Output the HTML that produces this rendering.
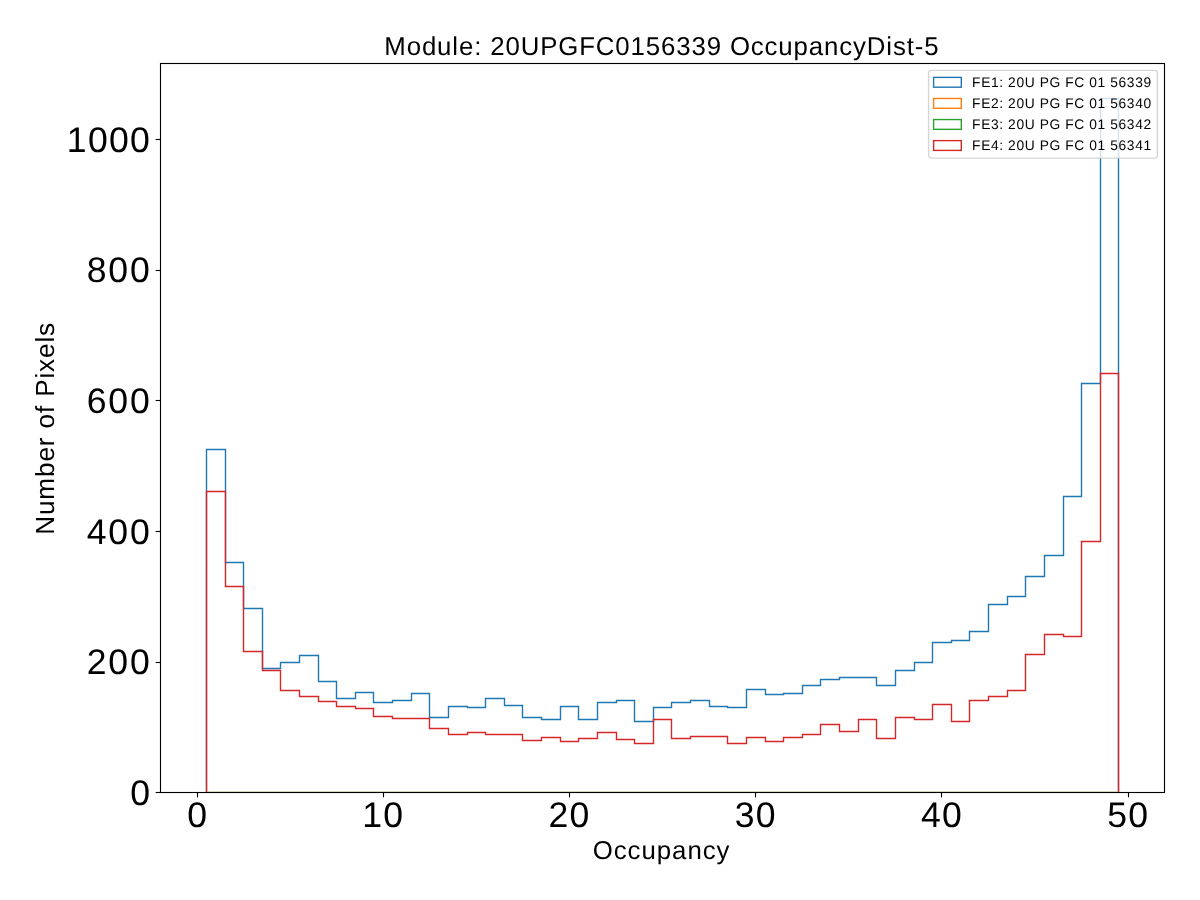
<!DOCTYPE html>
<html><head><meta charset="utf-8"><style>
html,body{margin:0;padding:0;background:#fff;}
svg{display:block;text-rendering:geometricPrecision;will-change:transform;}
text{font-family:"Liberation Sans",sans-serif;fill:#000;}
</style></head><body>
<svg width="1200" height="900" viewBox="0 0 1200 900">
<rect x="0" y="0" width="1200" height="900" fill="#fff"/>
<g fill="none" stroke-width="1.39" stroke-linejoin="miter">
<path d="M206.5 792.5 L206.5 449.5 L225.5 449.5 L225.5 562.5 L243.5 562.5 L243.5 608.5 L262.5 608.5 L262.5 668.5 L280.5 668.5 L280.5 662.5 L299.5 662.5 L299.5 655.5 L318.5 655.5 L318.5 681.5 L336.5 681.5 L336.5 698.5 L355.5 698.5 L355.5 692.5 L373.5 692.5 L373.5 702.5 L392.5 702.5 L392.5 700.5 L411.5 700.5 L411.5 693.5 L429.5 693.5 L429.5 717.5 L448.5 717.5 L448.5 706.5 L467.5 706.5 L467.5 707.5 L485.5 707.5 L485.5 698.5 L504.5 698.5 L504.5 705.5 L522.5 705.5 L522.5 717.5 L541.5 717.5 L541.5 719.5 L560.5 719.5 L560.5 706.5 L578.5 706.5 L578.5 719.5 L597.5 719.5 L597.5 702.5 L616.5 702.5 L616.5 700.5 L634.5 700.5 L634.5 721.5 L653.5 721.5 L653.5 707.5 L671.5 707.5 L671.5 702.5 L690.5 702.5 L690.5 700.5 L709.5 700.5 L709.5 706.5 L727.5 706.5 L727.5 707.5 L746.5 707.5 L746.5 689.5 L765.5 689.5 L765.5 694.5 L783.5 694.5 L783.5 693.5 L802.5 693.5 L802.5 685.5 L820.5 685.5 L820.5 679.5 L839.5 679.5 L839.5 677.5 L858.5 677.5 L858.5 677.5 L876.5 677.5 L876.5 685.5 L895.5 685.5 L895.5 670.5 L914.5 670.5 L914.5 662.5 L932.5 662.5 L932.5 642.5 L951.5 642.5 L951.5 640.5 L969.5 640.5 L969.5 631.5 L988.5 631.5 L988.5 604.5 L1007.5 604.5 L1007.5 596.5 L1025.5 596.5 L1025.5 576.5 L1044.5 576.5 L1044.5 555.5 L1063.5 555.5 L1063.5 496.5 L1081.5 496.5 L1081.5 383.5 L1100.5 383.5 L1100.5 98.5 L1118.5 98.5 L1118.5 792.5" stroke="#1f77b4"/>
<line x1="206.5" y1="791.5" x2="1118.5" y2="791.5" stroke="#e2e2c6" stroke-width="1"/>
<path d="M206.5 792.5 L206.5 491.5 L225.5 491.5 L225.5 586.5 L243.5 586.5 L243.5 651.5 L262.5 651.5 L262.5 670.5 L280.5 670.5 L280.5 690.5 L299.5 690.5 L299.5 696.5 L318.5 696.5 L318.5 701.5 L336.5 701.5 L336.5 706.5 L355.5 706.5 L355.5 708.5 L373.5 708.5 L373.5 716.5 L392.5 716.5 L392.5 718.5 L411.5 718.5 L411.5 718.5 L429.5 718.5 L429.5 728.5 L448.5 728.5 L448.5 734.5 L467.5 734.5 L467.5 732.5 L485.5 732.5 L485.5 734.5 L504.5 734.5 L504.5 734.5 L522.5 734.5 L522.5 740.5 L541.5 740.5 L541.5 737.5 L560.5 737.5 L560.5 741.5 L578.5 741.5 L578.5 738.5 L597.5 738.5 L597.5 732.5 L616.5 732.5 L616.5 739.5 L634.5 739.5 L634.5 743.5 L653.5 743.5 L653.5 719.5 L671.5 719.5 L671.5 738.5 L690.5 738.5 L690.5 736.5 L709.5 736.5 L709.5 736.5 L727.5 736.5 L727.5 743.5 L746.5 743.5 L746.5 737.5 L765.5 737.5 L765.5 741.5 L783.5 741.5 L783.5 737.5 L802.5 737.5 L802.5 734.5 L820.5 734.5 L820.5 724.5 L839.5 724.5 L839.5 731.5 L858.5 731.5 L858.5 719.5 L876.5 719.5 L876.5 738.5 L895.5 738.5 L895.5 717.5 L914.5 717.5 L914.5 719.5 L932.5 719.5 L932.5 704.5 L951.5 704.5 L951.5 721.5 L969.5 721.5 L969.5 700.5 L988.5 700.5 L988.5 696.5 L1007.5 696.5 L1007.5 690.5 L1025.5 690.5 L1025.5 654.5 L1044.5 654.5 L1044.5 634.5 L1063.5 634.5 L1063.5 636.5 L1081.5 636.5 L1081.5 541.5 L1100.5 541.5 L1100.5 373.5 L1118.5 373.5 L1118.5 792.5" stroke="#d62728"/>
</g>
<rect x="160.5" y="63.5" width="1004" height="729.0" fill="none" stroke="#000" stroke-width="1.11" stroke-linejoin="miter"/>
<g stroke="#000" stroke-width="1.11">
<line x1="197.5" y1="792.5" x2="197.5" y2="797.36"/><line x1="383.5" y1="792.5" x2="383.5" y2="797.36"/><line x1="569.5" y1="792.5" x2="569.5" y2="797.36"/><line x1="755.5" y1="792.5" x2="755.5" y2="797.36"/><line x1="941.5" y1="792.5" x2="941.5" y2="797.36"/><line x1="1128.5" y1="792.5" x2="1128.5" y2="797.36"/><line x1="160.5" y1="792.5" x2="155.64" y2="792.5"/><line x1="160.5" y1="662.5" x2="155.64" y2="662.5"/><line x1="160.5" y1="531.5" x2="155.64" y2="531.5"/><line x1="160.5" y1="400.5" x2="155.64" y2="400.5"/><line x1="160.5" y1="270.5" x2="155.64" y2="270.5"/><line x1="160.5" y1="139.5" x2="155.64" y2="139.5"/>
</g>
<text x="197.07" y="826.50" text-anchor="middle" font-size="35.6px">0</text>
<text x="382.70" y="826.50" text-anchor="middle" font-size="35.6px" textLength="40.70" lengthAdjust="spacing">10</text>
<text x="568.93" y="826.50" text-anchor="middle" font-size="35.6px" textLength="40.70" lengthAdjust="spacing">20</text>
<text x="755.16" y="826.50" text-anchor="middle" font-size="35.6px" textLength="40.70" lengthAdjust="spacing">30</text>
<text x="941.39" y="826.50" text-anchor="middle" font-size="35.6px" textLength="40.70" lengthAdjust="spacing">40</text>
<text x="1127.62" y="826.50" text-anchor="middle" font-size="35.6px" textLength="40.70" lengthAdjust="spacing">50</text>
<text x="150.00" y="804.70" text-anchor="end" font-size="35.6px">0</text>
<text x="149.80" y="674.10" text-anchor="end" font-size="35.6px" textLength="63.10" lengthAdjust="spacing">200</text>
<text x="149.80" y="543.50" text-anchor="end" font-size="35.6px" textLength="63.10" lengthAdjust="spacing">400</text>
<text x="149.80" y="412.90" text-anchor="end" font-size="35.6px" textLength="63.10" lengthAdjust="spacing">600</text>
<text x="149.80" y="282.30" text-anchor="end" font-size="35.6px" textLength="63.10" lengthAdjust="spacing">800</text>
<text x="149.80" y="151.70" text-anchor="end" font-size="35.6px" textLength="82.96" lengthAdjust="spacing">1000</text>
<text x="661.40" y="54.80" text-anchor="middle" font-size="25.8px" textLength="554.20" lengthAdjust="spacing">Module: 20UPGFC0156339 OccupancyDist-5</text>
<text x="661.10" y="858.70" text-anchor="middle" font-size="25.8px" textLength="136.70" lengthAdjust="spacing">Occupancy</text>
<text transform="translate(54.00,428.80) rotate(-90)" text-anchor="middle" font-size="26.2px" textLength="212.00" lengthAdjust="spacing">Number of Pixels</text>
<rect x="928.6" y="70.4" width="228.8" height="87.7" rx="2.8" ry="2.8" fill="#fff" fill-opacity="0.8" stroke="#cccccc" stroke-opacity="0.8" stroke-width="1.39"/>
<g fill="none" stroke-width="1.39">
<rect x="933.6" y="77.40" width="27.7" height="9.8" stroke="#1f77b4"/><rect x="933.6" y="98.47" width="27.7" height="9.8" stroke="#ff7f0e"/><rect x="933.6" y="119.54" width="27.7" height="9.8" stroke="#2ca02c"/><rect x="933.6" y="140.61" width="27.7" height="9.8" stroke="#d62728"/>
</g>
<text x="972.10" y="87.00" text-anchor="start" font-size="13.8px" textLength="179.00" lengthAdjust="spacing">FE1: 20U PG FC 01 56339</text>
<text x="972.10" y="107.93" text-anchor="start" font-size="13.8px" textLength="179.00" lengthAdjust="spacing">FE2: 20U PG FC 01 56340</text>
<text x="972.10" y="128.86" text-anchor="start" font-size="13.8px" textLength="179.00" lengthAdjust="spacing">FE3: 20U PG FC 01 56342</text>
<text x="972.10" y="149.79" text-anchor="start" font-size="13.8px" textLength="179.00" lengthAdjust="spacing">FE4: 20U PG FC 01 56341</text>
</svg>
</body></html>
